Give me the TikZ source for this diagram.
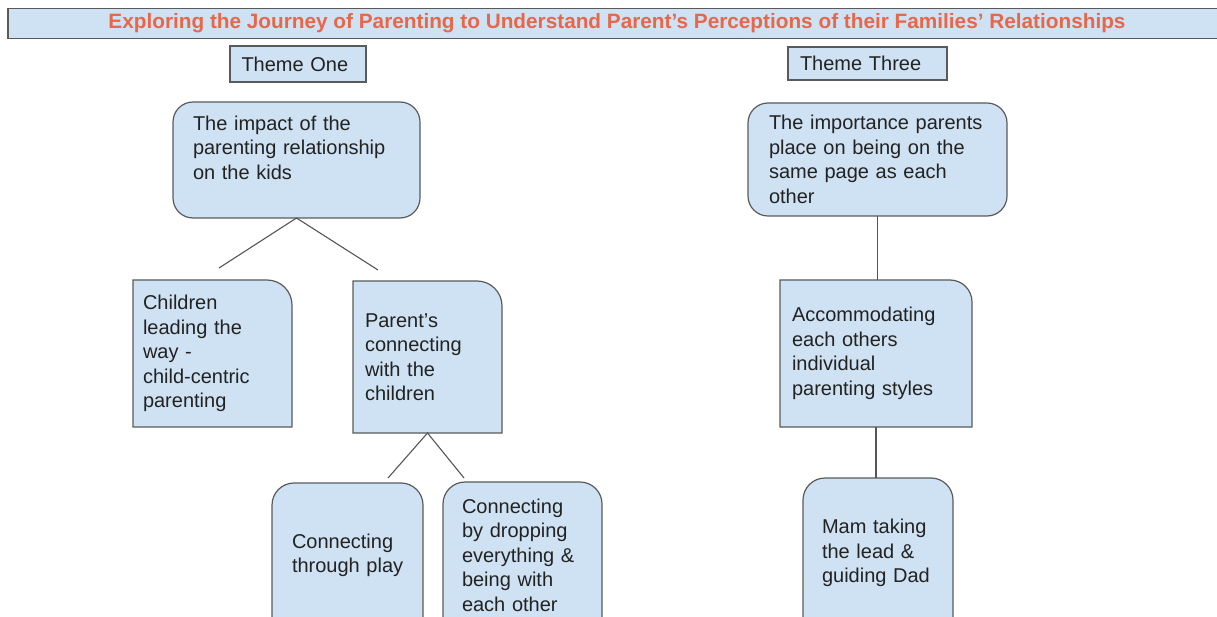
\documentclass[tikz,border=0pt]{standalone}
\usepackage{fontspec}
\usepackage{graphicx}
\setmainfont{Liberation Sans}
\usetikzlibrary{backgrounds}

\definecolor{boxfill}{HTML}{CFE2F3}
\definecolor{boxline}{HTML}{5A5A5A}
\definecolor{linkgrey}{HTML}{555555}
\definecolor{textdark}{HTML}{222222}
\definecolor{titlered}{HTML}{E8674A}

% Outline with only the top-right corner rounded: #1 node, #2 radius
\newcommand\tabTRoutline[2]{%
  \path[shapeline] (#1.south west) -- (#1.north west)
    -- ([xshift=-#2]#1.north east)
    .. controls ([xshift=-0.448*#2]#1.north east) and ([yshift=-0.448*#2]#1.north east) .. ([yshift=-#2]#1.north east)
    -- (#1.south east) -- cycle;}

% Outline with both top corners rounded: #1 node, #2 radius
\newcommand\tabTopOutline[2]{%
  \path[shapeline] (#1.south west) -- ([yshift=-#2]#1.north west)
    .. controls ([yshift=-0.448*#2]#1.north west) and ([xshift=0.448*#2]#1.north west) .. ([xshift=#2]#1.north west)
    -- ([xshift=-#2]#1.north east)
    .. controls ([xshift=-0.448*#2]#1.north east) and ([yshift=-0.448*#2]#1.north east) .. ([yshift=-#2]#1.north east)
    -- (#1.south east) -- cycle;}

\begin{document}
\begin{tikzpicture}[x=1pt,y=-1pt,
  every node/.style={inner sep=0pt,outer sep=0pt},
  bodytext/.style={font=\fontsize{20}{24.5}\selectfont, text=textdark, align=left},
  plainbox/.style={bodytext, draw=boxline, fill=boxfill, line width=1.2pt},
  roundbox/.style={plainbox, rounded corners=20pt},
  shapeline/.style={draw=boxline, fill=boxfill, line width=1.2pt},
  link/.style={draw=linkgrey, line width=1.1pt}]

\useasboundingbox (0,0) rectangle (1217,617);

% Title banner
\node[draw=boxline, fill=boxfill, line width=1.2pt, minimum width=1218pt, minimum height=30pt]
  (title) at (617,23.5)
  {\resizebox{1017pt}{!}{\bfseries\color{titlered}Exploring the Journey of Parenting to Understand Parent’s Perceptions of their Families’ Relationships}};

% Theme headers
\node[plainbox, text width=113pt, inner xsep=11.5pt, minimum height=36pt] (themeone) at (298,64) {Theme One};
\node[plainbox, text width=135pt, inner xsep=12pt, minimum height=33pt] (themethree) at (867.5,63.5) {Theme Three};

% Theme one tree
\node[roundbox, text width=207pt, inner xsep=20pt, minimum height=116pt] (impact) at (296.5,160)
  {The impact of the\\parenting relationship\\on the kids\\\mbox{}};
\node[bodytext, text width=139pt, inner xsep=10pt, minimum height=147pt] (childlead) at (212.5,353.5)
  {Children\\leading the\\way -\\child-centric\\parenting};
\node[bodytext, text width=125pt, inner xsep=12pt, minimum height=152pt] (connect) at (427.5,357)
  {Parent’s\\connecting\\with the\\children};
\node[bodytext, text width=111pt, inner xsep=20pt, minimum height=145pt] (play) at (347.5,555.5)
  {Connecting\\\mbox{through play}};
\node[bodytext, text width=121pt, inner xsep=19pt, minimum height=146pt] (dropping) at (522.5,555)
  {Connecting\\by dropping\\\mbox{everything \&}\\being with\\each other};

% Theme three tree
\node[roundbox, text width=217pt, inner xsep=21pt, minimum height=113pt] (samepage) at (877.5,159.5)
  {The importance parents\\place on being on the\\same page as each\\other};
\node[bodytext, text width=168pt, inner xsep=12pt, minimum height=147pt] (accommodate) at (876,353.5)
  {Accommodating\\each others\\individual\\parenting styles};
\node[bodytext, text width=112pt, inner xsep=19pt, minimum height=150pt] (mam) at (878,553)
  {Mam taking\\the lead \&\\guiding Dad};

% Box outlines behind the text
\begin{scope}[on background layer]
  \tabTRoutline{childlead}{25}
  \tabTRoutline{connect}{25}
  \tabTRoutline{accommodate}{22}
  \tabTopOutline{play}{22}
  \tabTopOutline{dropping}{22}
  \tabTopOutline{mam}{22}
\end{scope}

% Connectors
\coordinate (impactL) at (219,268);
\coordinate (impactR) at (378,270);
\coordinate (connectL) at (388,478);
\coordinate (connectR) at (464,478);
\draw[link] (impactL) -- (impact.south) -- (impactR);
\draw[link] (connectL) -- (connect.south) -- (connectR);
\draw[link] (samepage.south) -- (samepage.south |- accommodate.north);
\draw[link] (accommodate.south) -- (accommodate.south |- mam.north);

\end{tikzpicture}
\end{document}
